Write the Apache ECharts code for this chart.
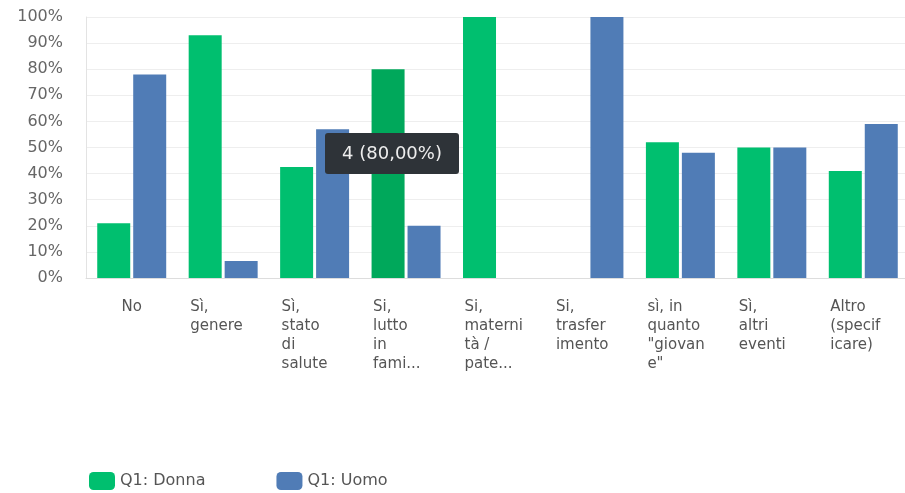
<!DOCTYPE html>
<html>
<head>
<meta charset="utf-8">
<script src="https://cdn.jsdelivr.net/npm/echarts@6/dist/echarts.min.js"></script>
<style>
  html, body { margin: 0; padding: 0; background: #fff; }
  #chart { width: 905px; height: 493px; }
</style>
</head>
<body>
<div id="chart"></div>
<script>
// categorie (già spezzate come nel grafico)
var categories = [
  'No',
  'Sì,\ngenere',
  'Sì,\nstato\ndi\nsalute',
  'Si,\nlutto\nin\nfami...',
  'Si,\nmaterni\ntà /\npate...',
  'Si,\ntrasfer\nimento',
  'sì, in\nquanto\n"giovan\ne"',
  'Sì,\naltri\neventi',
  'Altro\n(specif\nicare)'
];
var donna = [21, 93, 42.5, 80, 100, 0, 52, 50, 41];
var uomo = [78, 6.5, 57, 20, 0, 100, 48, 50, 59];
var yTicks = [0, 10, 20, 30, 40, 50, 60, 70, 80, 90, 100];
var tipText = '4 (80,00%)';
var tipIndex = 3; // barra evidenziata

var font = 'DejaVu Sans';
var green = '#00bf6f';
var blue = '#507cb6';

var chart = echarts.init(document.getElementById('chart'));

var donnaData = donna.map(function (v, i) {
  if (i == tipIndex) {
    return { value: v, itemStyle: { color: '#00a85b' } };
  }
  return v;
});

var option = {
  animation: false,
  textStyle: { fontFamily: font },
  grid: {
    left: 86,
    right: -4,
    top: 17,
    bottom: 215,
    containLabel: false,
    outerBoundsMode: 'none'
  },
  legend: {
    left: 84,
    top: 467,
    itemWidth: 26,
    itemHeight: 18,
    itemGap: 71,
    icon: 'roundRect',
    textStyle: { color: '#555', fontSize: 16, fontFamily: font },
    data: ['Q1: Donna', 'Q1: Uomo']
  },
  xAxis: {
    type: 'category',
    data: categories,
    axisLine: { show: true, lineStyle: { color: '#ddd' } },
    axisTick: { show: false },
    axisLabel: {
      interval: 0,
      margin: 20,
      color: '#555',
      fontSize: 15,
      lineHeight: 19,
      verticalAlign: 'top',
      formatter: function (val) {
        if (val.indexOf('\n') < 0) return val;
        return val.split('\n').map(function (s) {
          return '{l|' + s + '}';
        }).join('\n');
      },
      rich: {
        l: { width: 66, align: 'left', fontSize: 15, lineHeight: 19, color: '#555', fontFamily: font }
      }
    }
  },
  yAxis: {
    type: 'value',
    min: 0,
    max: 100,
    interval: 10,
    axisLine: { show: true, lineStyle: { color: '#e3e3e3' } },
    axisTick: { show: false },
    splitLine: { lineStyle: { color: '#eeeeee' } },
    axisLabel: {
      margin: 23,
      color: '#666',
      fontSize: 16,
      formatter: function (v) {
        return yTicks.indexOf(v) >= 0 ? v + '%' : '';
      }
    }
  },
  series: [
    {
      name: 'Q1: Donna',
      type: 'bar',
      data: donnaData,
      barWidth: 33,
      barGap: '9%',
      itemStyle: { color: green }
    },
    {
      name: 'Q1: Uomo',
      type: 'bar',
      data: uomo,
      barWidth: 33,
      itemStyle: { color: blue }
    }
  ],
  graphic: [
    {
      type: 'group',
      left: 325,
      top: 133,
      zlevel: 1,
      children: [
        {
          type: 'rect',
          z: 100,
          shape: { x: 0, y: 0, width: 134, height: 41, r: 3 },
          style: { fill: '#2e3338' }
        },
        {
          type: 'text',
          z: 101,
          x: 67,
          y: 21,
          style: {
            text: tipText,
            fill: '#eee',
            font: '18px "' + font + '"',
            textAlign: 'center',
            textVerticalAlign: 'middle'
          }
        }
      ]
    }
  ]
};

chart.setOption(option);
</script>
</body>
</html>
